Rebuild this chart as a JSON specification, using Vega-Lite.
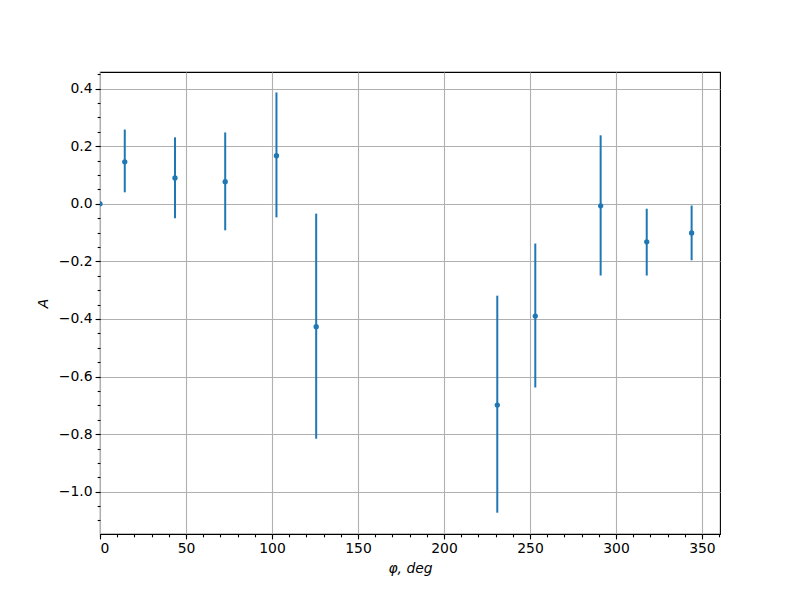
{
  "$schema": "https://vega.github.io/schema/vega-lite/v6.json",
  "width": 620,
  "height": 462,
  "autosize": {"type": "none"},
  "padding": {"left": 100, "top": 72, "right": 80, "bottom": 66},
  "background": "white",
  "config": {
    "view": {"stroke": "black", "strokeWidth": 1.1},
    "axis": {
      "domain": false,
      "tickColor": "black",
      "tickWidth": 1.1,
      "labelColor": "black",
      "labelFont": "DejaVu Sans",
      "labelFontSize": 13.9,
      "titleFont": "DejaVu Sans",
      "titleFontSize": 13.9,
      "titleFontWeight": "normal",
      "titleFontStyle": "italic",
      "titleColor": "black"
    }
  },
  "data": {
    "values": [
      {"phi": 0.0, "A": 0.0, "lo": 0.0, "hi": 0.0},
      {"phi": 14.4, "A": 0.146, "lo": 0.040, "hi": 0.258},
      {"phi": 43.6, "A": 0.090, "lo": -0.050, "hi": 0.231},
      {"phi": 72.8, "A": 0.077, "lo": -0.092, "hi": 0.248},
      {"phi": 102.6, "A": 0.167, "lo": -0.047, "hi": 0.387},
      {"phi": 125.7, "A": -0.427, "lo": -0.816, "hi": -0.034},
      {"phi": 231.0, "A": -0.699, "lo": -1.073, "hi": -0.319},
      {"phi": 253.1, "A": -0.390, "lo": -0.638, "hi": -0.138},
      {"phi": 291.1, "A": -0.007, "lo": -0.249, "hi": 0.238},
      {"phi": 317.9, "A": -0.132, "lo": -0.249, "hi": -0.017},
      {"phi": 344.0, "A": -0.101, "lo": -0.196, "hi": -0.006}
    ]
  },
  "layer": [
    {
      "mark": {"type": "rule", "color": "#1f77b4", "strokeWidth": 2, "clip": true},
      "encoding": {
        "x": {
          "field": "phi", "type": "quantitative",
          "scale": {"domain": [0, 360.5], "nice": false, "zero": false},
          "axis": {
            "orient": "bottom", "title": null, "labels": false, "grid": false,
            "tickSize": 2.8,
            "values": [0,10,20,30,40,50,60,70,80,90,100,110,120,130,140,150,160,170,180,190,200,210,220,230,240,250,260,270,280,290,300,310,320,330,340,350,360]
          }
        },
        "y": {
          "field": "lo", "type": "quantitative",
          "scale": {"domain": [-1.147, 0.458], "nice": false, "zero": false},
          "axis": {
            "orient": "left", "title": null, "labels": false, "grid": false,
            "tickSize": 2.8,
            "values": [-1.1,-1.05,-1.0,-0.95,-0.9,-0.85,-0.8,-0.75,-0.7,-0.65,-0.6,-0.55,-0.5,-0.45,-0.4,-0.35,-0.3,-0.25,-0.2,-0.15,-0.1,-0.05,0,0.05,0.1,0.15,0.2,0.25,0.3,0.35,0.4,0.45]
          }
        },
        "y2": {"field": "hi"}
      }
    },
    {
      "mark": {"type": "circle", "color": "#1f77b4", "size": 28, "opacity": 1, "clip": true},
      "encoding": {
        "x": {
          "field": "phi", "type": "quantitative",
          "axis": {
            "orient": "bottom", "title": "φ, deg", "grid": true,
            "gridColor": "#b0b0b0", "gridWidth": 1.1,
            "tickSize": 4.9, "labelPadding": 3, "titlePadding": 6,
            "values": [0, 50, 100, 150, 200, 250, 300, 350],
            "format": "d"
          }
        },
        "y": {
          "field": "A", "type": "quantitative",
          "axis": {
            "orient": "left", "title": "A", "grid": true,
            "gridColor": "#b0b0b0", "gridWidth": 1.1,
            "tickSize": 4.9, "labelPadding": 3, "titlePadding": 8,
            "values": [-1.0, -0.8, -0.6, -0.4, -0.2, 0.0, 0.2, 0.4],
            "format": ".1f"
          }
        }
      }
    }
  ],
  "resolve": {"axis": {"x": "independent", "y": "independent"}}
}
